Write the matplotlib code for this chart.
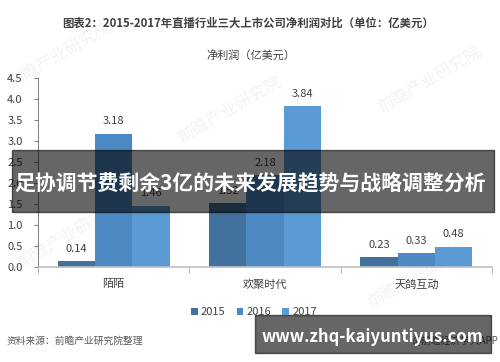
import numpy as np
import matplotlib
matplotlib.use("Agg")
import matplotlib.pyplot as plt
from matplotlib.patches import Rectangle

plt.rcParams['font.family'] = ['Noto Sans CJK SC', 'DejaVu Sans']

companies = ["陌陌", "欢聚时代", "天鸽互动"]
years = ["2015", "2016", "2017"]
profit_2015 = [0.14, 1.52, 0.23]
profit_2016 = [3.18, 2.18, 0.33]
profit_2017 = [1.46, 3.84, 0.48]
series = [profit_2015, profit_2016, profit_2017]
colors = ["#41719C", "#4C88C2", "#5B9BD5"]

W, H = 500, 362


def fx(x):
    return x / W


def fy(y):
    return 1 - y / H


fig = plt.figure(figsize=(5, 3.62), dpi=100)
ax = fig.add_axes([fx(38), fy(266.7), fx(492 - 38), (266.7 - 78.3) / H])
ax.set_zorder(2)
ax.patch.set_alpha(0)

x = np.arange(len(companies))
width = 0.246
for i, (vals, c) in enumerate(zip(series, colors)):
    pos = x + (i - 1) * width
    bars = ax.bar(pos, vals, width=width, color=c, label=years[i])
    for b, v in zip(bars, vals):
        ax.text(b.get_x() + b.get_width() / 2, v + 0.17, f"{v:.2f}",
                ha="center", va="bottom", fontsize=8, color="#404040")

ax.set_xlim(-0.5, 2.5)
ax.set_ylim(0, 4.5)
ax.set_yticks(np.arange(0, 4.51, 0.5))
ax.set_yticklabels([f"{v:.1f}" for v in np.arange(0, 4.51, 0.5)])
ax.set_xticks(x)
ax.set_xticklabels(companies)
ax.set_xticks([-0.5, 0.5, 1.5, 2.5], minor=True)
ax.tick_params(axis="x", which="major", length=0, pad=9, labelsize=8, labelcolor="#404040")
ax.tick_params(axis="x", which="minor", length=4, color="#A6A6A6")
ax.tick_params(axis="y", length=3, pad=8, labelsize=8, labelcolor="#404040", color="#808080")
for s in ["top", "right"]:
    ax.spines[s].set_visible(False)
ax.spines["left"].set_color("#808080")
ax.spines["left"].set_linewidth(0.7)
ax.spines["bottom"].set_color("#BFBFBF")
ax.spines["bottom"].set_linewidth(1.2)

fig.text(fx(248), fy(23), "图表2：2015-2017年直播行业三大上市公司净利润对比（单位：亿美元）",
         ha="center", va="center", fontsize=8.2, fontweight="bold", color="#404040")
fig.text(fx(251), fy(55), "净利润（亿美元）", ha="center", va="center",
         fontsize=8, color="#404040")

fig.legend(loc="center", bbox_to_anchor=(fx(254), fy(312)), ncol=3, frameon=False,
           fontsize=8, handlelength=0.6, handleheight=0.6, handletextpad=0.3,
           columnspacing=1.0, labelcolor="#404040")

fig.text(fx(7), fy(341), "资料来源：前瞻产业研究院整理", ha="left", va="center",
         fontsize=7, style="italic", color="#595959")
fig.text(fx(498), fy(341), "@前瞻经济学人APP", ha="right", va="center",
         fontsize=7, color="#595959")

# faint watermarks, kept behind the chart
marks = [(60, 55), (230, 110), (430, 80), (70, 235), (260, 240), (420, 275)]
for mx, my in marks:
    fig.text(fx(mx), fy(my), "前瞻产业研究院", ha="center", va="center", fontsize=12,
             rotation=30, color="#F3F3F3", zorder=0)

# dark overlay bands
fig.patches.append(Rectangle((fx(12), fy(212)), fx(494 - 12), (212 - 150) / H,
                             transform=fig.transFigure, color="black", alpha=0.6, zorder=5))
fig.text(fx(14), fy(183), "足协调节费剩余3亿的未来发展趋势与战略调整分析", ha="left", va="center",
         fontsize=15, fontweight="bold", color="white", zorder=6)
fig.patches.append(Rectangle((fx(255), fy(353)), fx(491 - 255), (353 - 315) / H,
                             transform=fig.transFigure, color="black", alpha=0.6, zorder=5))
fig.text(fx(372), fy(337), "www.zhq-kaiyuntiyus.com", ha="center", va="center",
         fontsize=12, fontweight="bold", color="white", zorder=6)

fig.savefig("out.png", dpi=100)
